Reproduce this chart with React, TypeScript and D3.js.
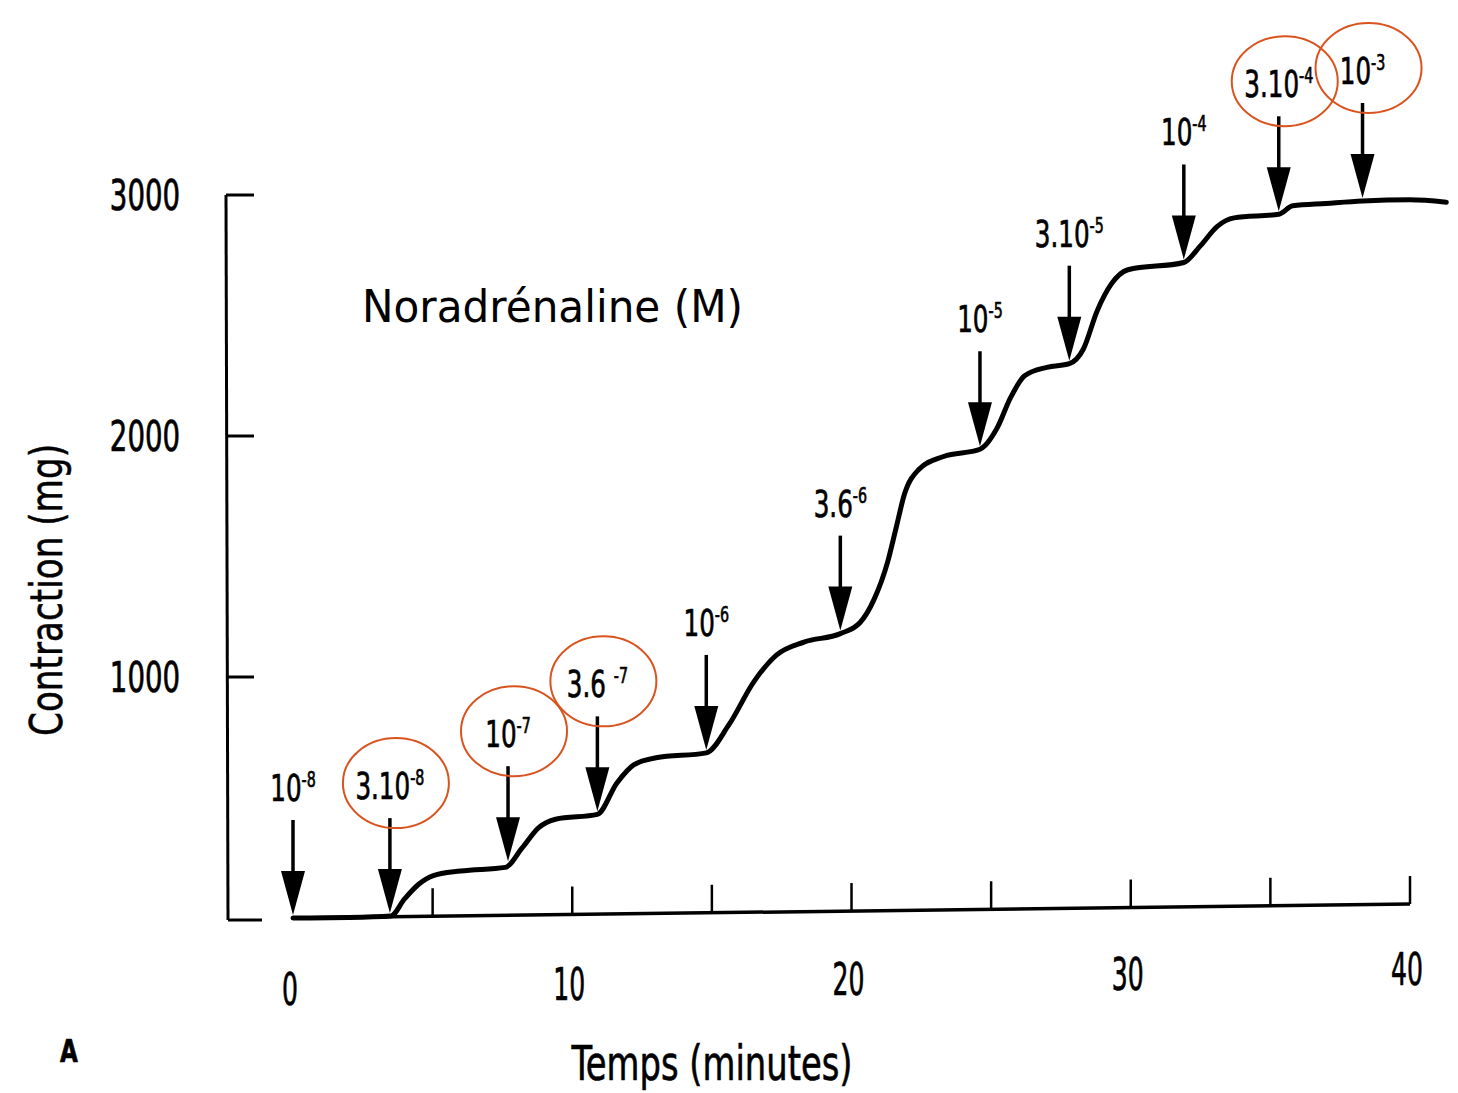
import React from 'react';
import * as d3 from 'd3';

// Response curve (time in minutes, contraction in mg)
const curveTimes = [0, 2.0, 3.5, 4.0, 4.5, 5.0, 6.0, 7.6, 8.2, 8.8, 9.4, 10.9, 11.6, 12.2, 13.0, 14.8, 15.6, 16.5, 17.3, 18.3, 19.6, 20.3, 20.8, 21.3, 21.6, 21.9, 22.4, 23.3, 24.6, 25.2, 25.7, 26.2, 27.0, 27.8, 28.3, 28.8, 29.3, 29.9, 31.9, 32.5, 33.1, 33.7, 35.3, 35.8, 37.0, 38.3, 40.0, 41.3];
const curveValues = [0, 2, 8, 80, 140, 175, 195, 210, 290, 375, 410, 430, 560, 635, 665, 685, 800, 980, 1090, 1145, 1180, 1225, 1320, 1480, 1620, 1760, 1860, 1915, 1945, 2030, 2160, 2250, 2285, 2300, 2360, 2520, 2630, 2690, 2720, 2790, 2870, 2905, 2920, 2955, 2965, 2975, 2980, 2970];

// Doses (arrows)
const doseTimes = [0, 3.47, 7.7, 10.9, 14.8, 19.6, 24.6, 27.8, 31.9, 35.3, 38.3];
const doseBase = ['10', '3.10', '10', '3.6 ', '10', '3.6', '10', '3.10', '10', '3.10', '10'];
const doseExp = ['-8', '-8', '-7', '-7', '-6', '-6', '-5', '-5', '-4', '-4', '-3'];
const doseCircled = [false, true, true, true, false, false, false, false, false, true, true];

const yTicks = [1000, 2000, 3000];
const xTickLabels = [0, 10, 20, 30, 40];
const xTicks = [5, 10, 15, 20, 25, 30, 35, 40];

const W = 1458;
const H = 1093;
const COND = "'DejaVu Sans Condensed', 'Liberation Sans Narrow', 'Arial Narrow', sans-serif";

function CText({ x, y, sx, anchor, size, children, weight }: any) {
  return (
    <g transform={`translate(${x},${y}) scale(${sx},1)`}>
      <text x={0} y={0} textAnchor={anchor || 'start'} fontFamily={COND} fontSize={size} fontWeight={weight || 'normal'} fill="#000" stroke="#000" strokeWidth={0.7}>
        {children}
      </text>
    </g>
  );
}

export default function App() {
  const x = d3.scaleLinear().domain([0, 40]).range([293, 1410]);
  const y = d3.scaleLinear().domain([0, 3000]).range([918, 195]);
  const tilt = 0.0125;
  const baseY = (t: number) => y(0) - (x(t) - x(0)) * tilt;
  const interp = d3.scaleLinear().domain(curveTimes).range(curveValues);

  const pts = curveTimes.map((t, i) => [t, curveValues[i]] as [number, number]);
  const line = d3
    .line<[number, number]>()
    .x((d) => x(d[0]))
    .y((d) => y(d[1]))
    .curve(d3.curveMonotoneX);

  const axisX = 226;
  const shaftLen = 95;
  const red = '#d9531e';

  return (
    <svg width={W} height={H} viewBox={`0 0 ${W} ${H}`} style={{ position: 'absolute', left: 0, top: 0, background: '#fff' }}>
      <rect x={0} y={0} width={W} height={H} fill="#fff" />
      {/* Y axis */}
      <line x1={axisX} y1={y(3000)} x2={axisX + 2} y2={y(0) + 2} stroke="#000" strokeWidth={3} />
      {yTicks.map((v) => (
        <g key={v}>
          <line x1={axisX} y1={y(v)} x2={axisX + 28} y2={y(v)} stroke="#000" strokeWidth={3} />
          <CText x={180} y={y(v) + 15} sx={0.73} anchor="end" size={42}>
            {v}
          </CText>
        </g>
      ))}
      <line x1={axisX + 2} y1={y(0) + 2} x2={axisX + 36} y2={y(0) + 2} stroke="#000" strokeWidth={3} />

      {/* X axis baseline (slightly tilted as in the scan) */}
      <line x1={x(0)} y1={baseY(0)} x2={x(40)} y2={baseY(40)} stroke="#000" strokeWidth={3.5} />
      {xTicks.map((t) => (
        <line key={t} x1={x(t)} y1={baseY(t)} x2={x(t)} y2={baseY(t) - 28} stroke="#000" strokeWidth={2.5} />
      ))}
      {xTickLabels.map((t) => (
        <CText key={t} x={x(t) - 3} y={1005 - t * 0.5} sx={0.62} anchor="middle" size={45}>
          {t}
        </CText>
      ))}

      {/* Curve */}
      <path d={line(pts) || ''} fill="none" stroke="#000" strokeWidth={5} strokeLinecap="round" strokeLinejoin="round" />

      {/* Arrows and labels */}
      {doseTimes.map((t, i) => {
        const ax = x(t);
        const tip = y(interp(t)) - 3;
        const top = tip - shaftLen;
        const lblY = top - 19;
        return (
          <g key={i}>
            <line x1={ax} y1={top} x2={ax} y2={tip - 38} stroke="#000" strokeWidth={3.5} />
            <path d={`M${ax},${tip} L${ax - 12},${tip - 44} L${ax + 12},${tip - 44} Z`} fill="#000" />
            <CText x={ax} y={lblY} sx={0.72} anchor="middle" size={38}>
              <tspan>{doseBase[i]}</tspan>
              <tspan fontSize={22} dy={-14}>{doseExp[i]}</tspan>
            </CText>
            {doseCircled[i] && (
              <ellipse cx={ax + 6} cy={lblY - 16} rx={53} ry={45} fill="none" stroke={red} strokeWidth={2} />
            )}
          </g>
        );
      })}

      {/* Annotation title */}
      <text x={362} y={322} fontFamily="'DejaVu Sans', Verdana, sans-serif" fontSize={44} textLength={381} lengthAdjust="spacingAndGlyphs" fill="#000">
        Noradrénaline (M)
      </text>

      {/* Axis titles */}
      <text transform="translate(62,590) rotate(-90)" textAnchor="middle" fontFamily={COND} fontSize={44} textLength={292} lengthAdjust="spacingAndGlyphs" fill="#000" stroke="#000" strokeWidth={0.5}>
        Contraction (mg)
      </text>
      <text x={712} y={1080} textAnchor="middle" fontFamily={COND} fontSize={48} textLength={281} lengthAdjust="spacingAndGlyphs" fill="#000" stroke="#000" strokeWidth={0.6}>
        Temps (minutes)
      </text>
      <CText x={69} y={1062} sx={0.8} anchor="middle" size={32} weight="bold">
        A
      </CText>
    </svg>
  );
}
